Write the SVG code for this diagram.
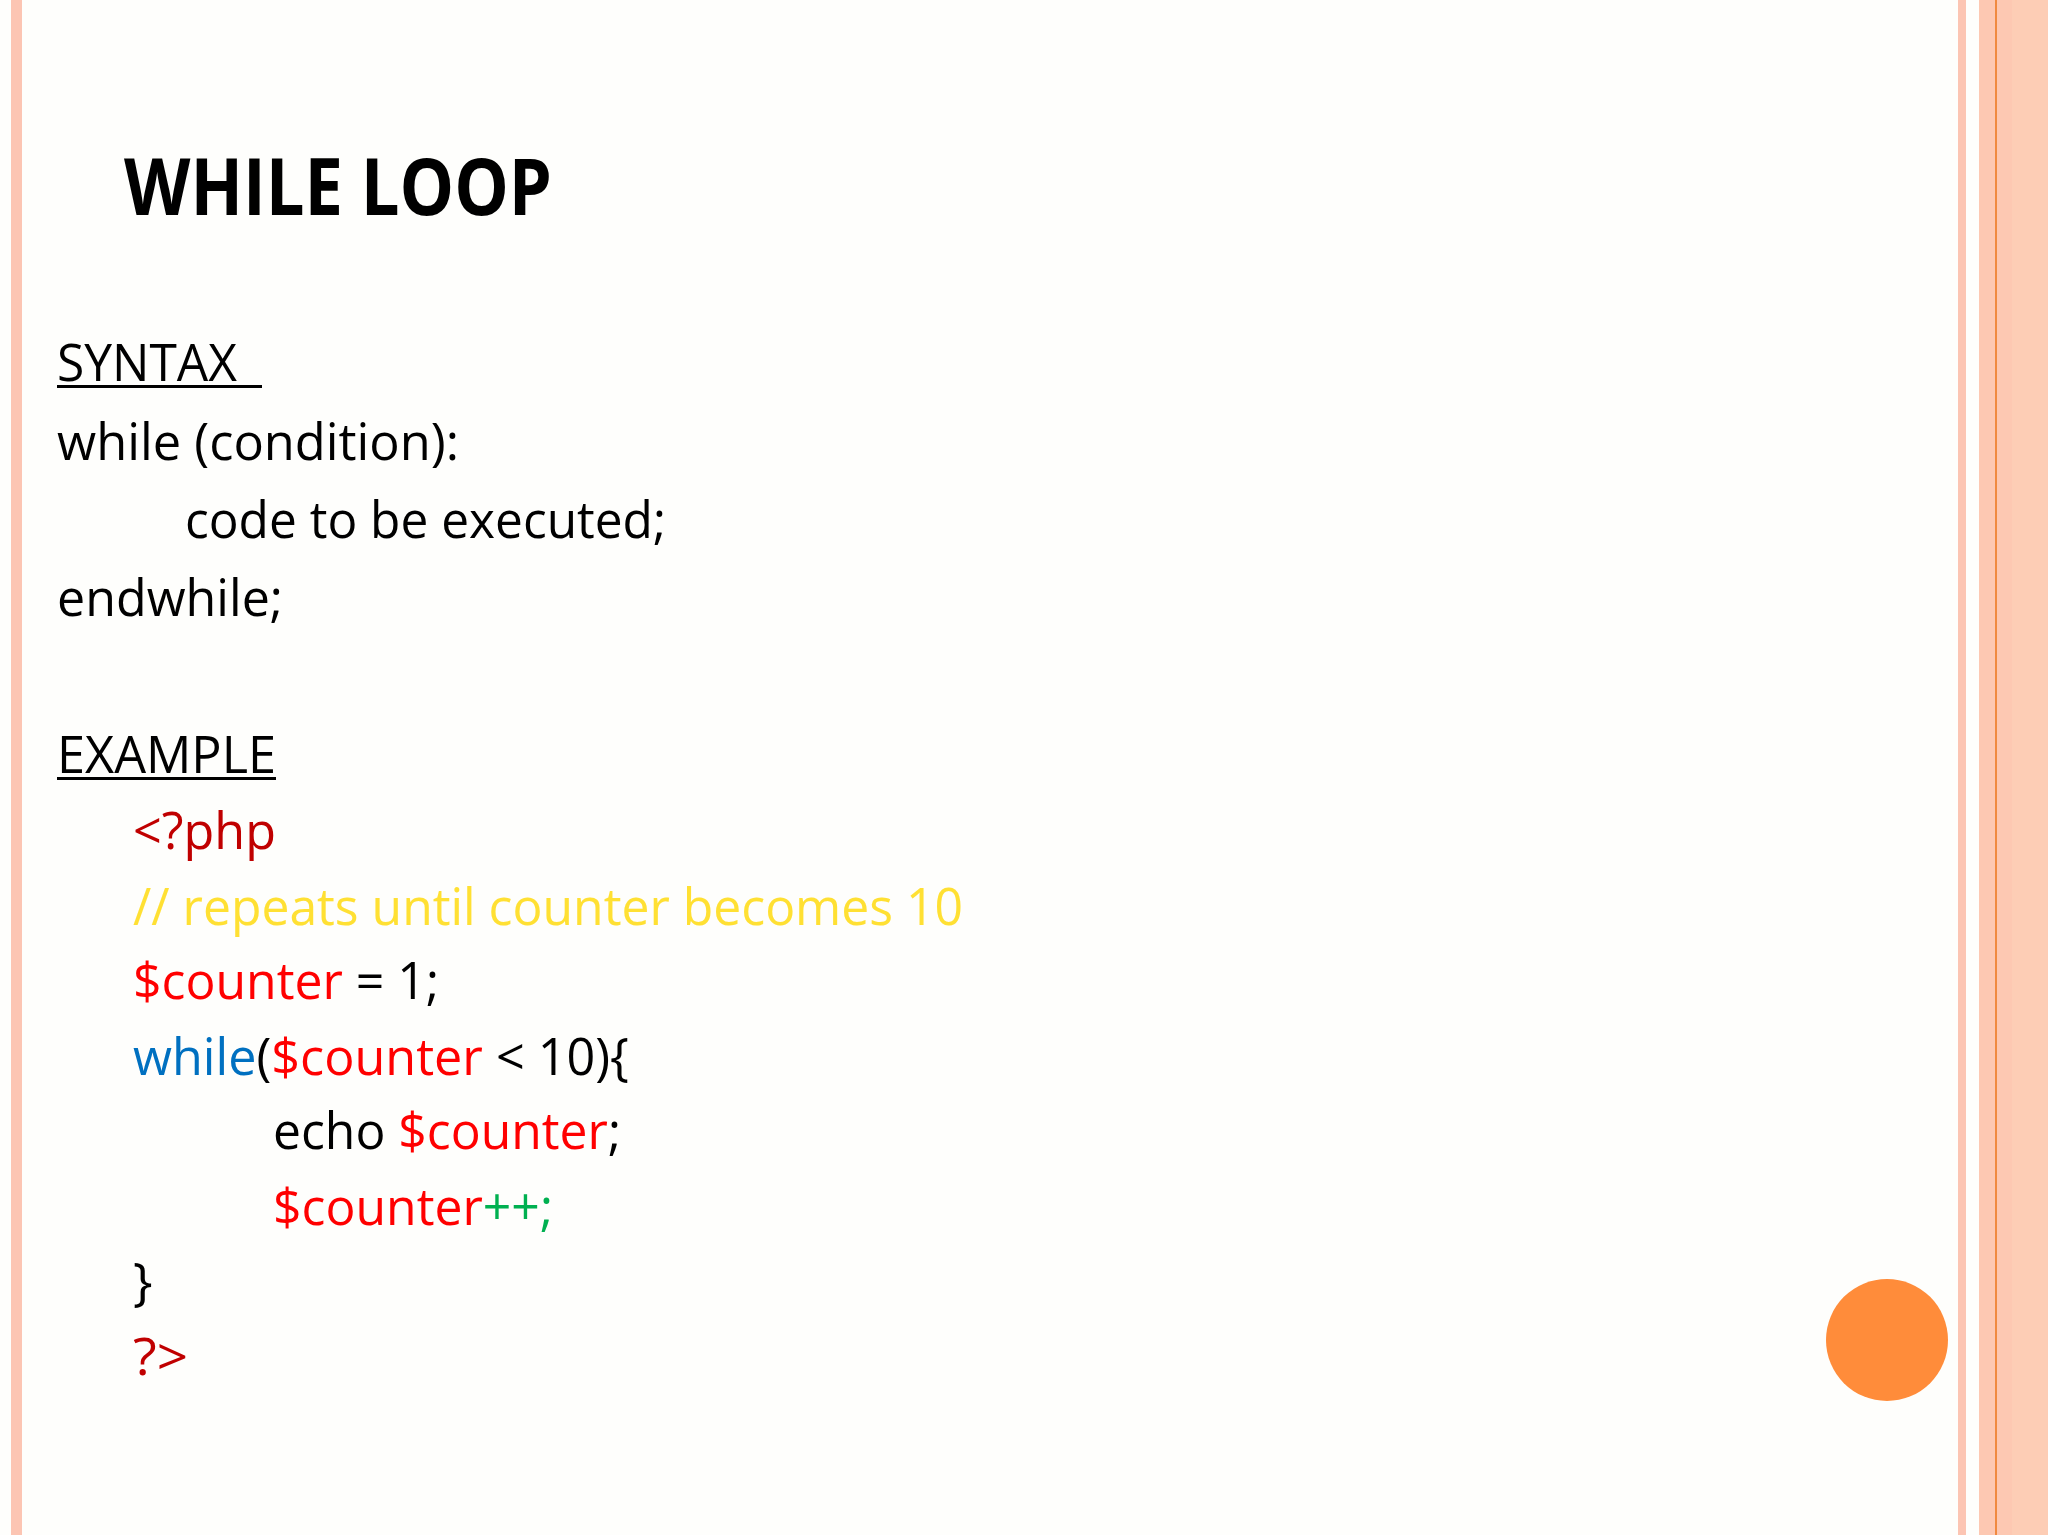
<svg xmlns="http://www.w3.org/2000/svg" width="2048" height="1535" viewBox="0 0 2048 1535">
<style>
.t{font-family:"Open Sans","Liberation Sans",sans-serif;font-size:52px;fill:#000}
.r{fill:#FF0000}.dr{fill:#C00000}.b{fill:#0070C0}.g{fill:#00B050}.y{fill:#FFE033}
</style>
<rect width="2048" height="1535" fill="#FEFEFC"/>
<rect x="11" y="0" width="11" height="1535" fill="#FCC5B3"/>
<rect x="1958" y="0" width="8" height="1535" fill="#FCC5B3"/>
<rect x="1979" y="0" width="69" height="1535" fill="#FDC8B2"/>
<rect x="1995" y="0" width="2" height="1535" fill="#F08A40"/>
<rect x="2012" y="0" width="36" height="1535" fill="#FDCDB5"/>
<g id="title"><text x="124" y="215" font-family="Open Sans,Liberation Sans,sans-serif" font-weight="bold" font-size="78" textLength="428" lengthAdjust="spacingAndGlyphs">WHILE LOOP</text></g>
<g id="syntax">
<text class="t" x="57" y="381" textLength="180" lengthAdjust="spacingAndGlyphs">SYNTAX</text>
<rect x="57" y="385" width="205" height="3"/>
<text class="t" x="57" y="460" textLength="402" lengthAdjust="spacingAndGlyphs">while (condition):</text>
<text class="t" x="185" y="538" textLength="481" lengthAdjust="spacingAndGlyphs">code to be executed;</text>
<text class="t" x="57" y="616" textLength="226" lengthAdjust="spacingAndGlyphs">endwhile;</text>
</g>
<g id="example">
<text class="t" x="57" y="773" textLength="219" lengthAdjust="spacingAndGlyphs">EXAMPLE</text>
<rect x="57" y="777" width="219" height="3"/>
<text class="t dr" x="133" y="849" textLength="143" lengthAdjust="spacingAndGlyphs">&lt;?php</text>
<text class="t y" x="133" y="925" textLength="830" lengthAdjust="spacingAndGlyphs">// repeats until counter becomes 10</text>
<text class="t" x="133" y="999" textLength="306" lengthAdjust="spacingAndGlyphs"><tspan class="r">$counter</tspan> = 1;</text>
<text class="t" x="133" y="1075" textLength="496" lengthAdjust="spacingAndGlyphs"><tspan class="b">while</tspan>(<tspan class="r">$counter</tspan> &lt; 10){</text>
<text class="t" x="273" y="1149" textLength="348" lengthAdjust="spacingAndGlyphs">echo <tspan class="r">$counter</tspan>;</text>
<text class="t" x="273" y="1225" textLength="280" lengthAdjust="spacingAndGlyphs"><tspan class="r">$counter</tspan><tspan class="g">++;</tspan></text>
<text class="t" x="133" y="1300">}</text>
<text class="t dr" x="133" y="1375" textLength="55" lengthAdjust="spacingAndGlyphs">?&gt;</text>
</g>
<g id="dot"><circle cx="1887" cy="1340" r="61" fill="#FF8C3A"/></g>
</svg>
